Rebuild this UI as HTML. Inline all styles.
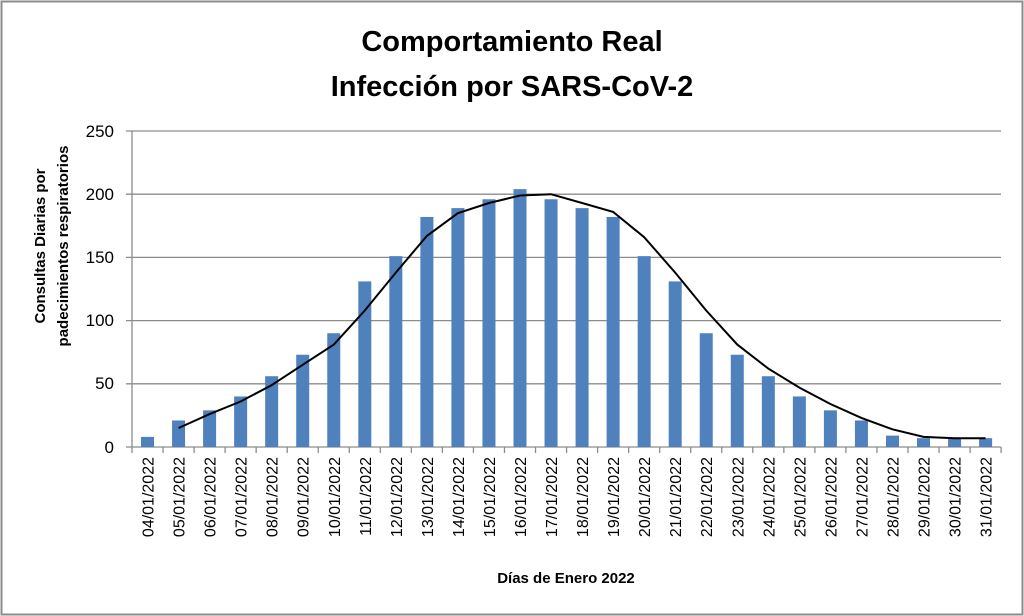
<!DOCTYPE html>
<html><head><meta charset="utf-8"><style>
body{margin:0;background:#fff}
svg{display:block}
text{font-family:"Liberation Sans",sans-serif}
</style></head><body>
<svg width="1024" height="616" xmlns="http://www.w3.org/2000/svg">
<rect x="1.5" y="1.5" width="1021" height="613" fill="#fff" stroke="#8c8c8c" stroke-width="2"/>
<text x="512" y="51" font-size="29" font-weight="bold" text-anchor="middle">Comportamiento Real</text>
<text x="512" y="96" font-size="29" font-weight="bold" text-anchor="middle">Infección por SARS-CoV-2</text>
<g stroke="#8c8c8c" stroke-width="1.3">
<line x1="126" y1="131" x2="1001" y2="131"/>
<line x1="126" y1="194.2" x2="1001" y2="194.2"/>
<line x1="126" y1="257.4" x2="1001" y2="257.4"/>
<line x1="126" y1="320.6" x2="1001" y2="320.6"/>
<line x1="126" y1="383.8" x2="1001" y2="383.8"/>
<line x1="126" y1="447" x2="1001" y2="447"/>
<line x1="132" y1="131" x2="132" y2="447"/>
</g>
<g font-size="17" text-anchor="end" fill="#000">
<text x="114" y="137">250</text><text x="114" y="200">200</text><text x="114" y="263">150</text>
<text x="114" y="326">100</text><text x="114" y="389">50</text><text x="114" y="453">0</text>
</g>
<g font-size="15" font-weight="bold" text-anchor="middle">
<text transform="translate(45,246) rotate(-90)">Consultas  Diarias por</text>
<text transform="translate(68,246) rotate(-90)">padecimientos respiratorios</text>
</g>
<text x="566" y="583" font-size="15" font-weight="bold" text-anchor="middle">Días de Enero 2022</text>
<g id="bars"></g>
<g id="ticks" stroke="#8c8c8c" stroke-width="1.3"></g>
<g id="labels" font-size="16" text-anchor="end"></g>
<polyline id="line" fill="none" stroke="#000" stroke-width="2"/>
</svg>
<script>
var v=[8,21,29,40,56,73,90,131,151,182,189,196,204,196,189,182,151,131,90,73,56,40,29,21,9,7,7,7];
var m=[null,15,26,36,49,65,81,108,138,167,185,193,199,200,193,186,166,138,108,81,62,47,34,23,14,8,7,7];
var x0=132,w=31.04,y0=447,s=316/250,ns="http://www.w3.org/2000/svg";
var B=document.getElementById('bars'),T=document.getElementById('ticks'),L=document.getElementById('labels'),pts=[];
for(var i=0;i<28;i++){
 var c=x0+w*(i+0.5);
 var r=document.createElementNS(ns,'rect');r.setAttribute('x',c-6.5);r.setAttribute('width',13);
 r.setAttribute('y',y0-v[i]*s);r.setAttribute('height',v[i]*s);r.setAttribute('fill','#4f81bd');B.appendChild(r);
 var t=document.createElementNS(ns,'line');var tx=x0+w*(i+1);t.setAttribute('x1',tx);t.setAttribute('x2',tx);t.setAttribute('y1',447);t.setAttribute('y2',453);T.appendChild(t);
 var d=String(i+4).padStart(2,'0')+'/01/2022';
 var tt=document.createElementNS(ns,'text');tt.setAttribute('transform','translate('+(c+6)+',457) rotate(-90)');tt.textContent=d;L.appendChild(tt);
 if(m[i]!=null)pts.push(c.toFixed(1)+','+(y0-m[i]*s).toFixed(1));
}
var t0=document.createElementNS(ns,'line');t0.setAttribute('x1',132);t0.setAttribute('x2',132);t0.setAttribute('y1',447);t0.setAttribute('y2',453);T.appendChild(t0);
document.getElementById('line').setAttribute('points',pts.join(' '));
</script>
</body></html>
